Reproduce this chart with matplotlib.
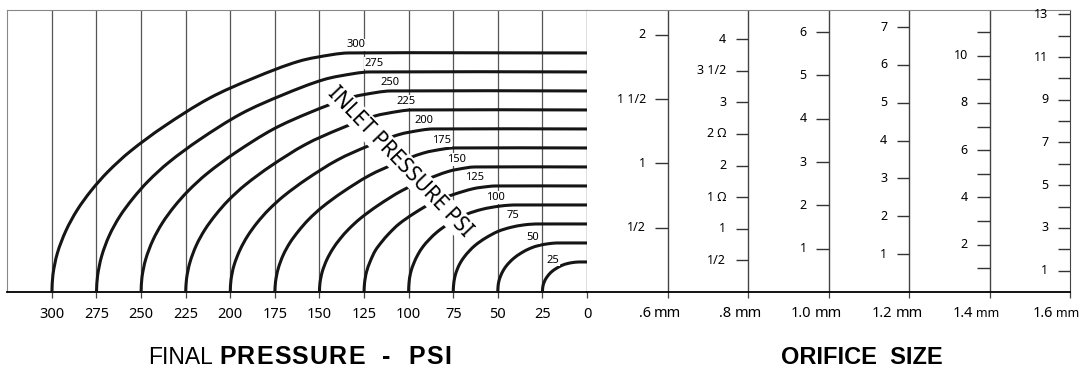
"""Regulator flow nomogram: inlet pressure curves and orifice scales."""
import matplotlib
matplotlib.use("Agg")
import matplotlib.pyplot as plt
import numpy as np
from matplotlib.patches import PathPatch
from matplotlib.path import Path
from matplotlib.transforms import blended_transform_factory

W, H = 1086, 375

# final pressure axis (psi)
PSI_TICKS = [300, 275, 250, 225, 200, 175, 150, 125, 100, 75, 50, 25, 0]

# inlet pressure curves: final pressure (psi) vs flow (chart units)
FINAL_300 = [300, 299.4, 296.9, 292.1, 285.8, 278.0, 268.6, 256.0, 237.1, 211.9, 186.8, 161.6, 142.8, 133.3, 0]
FLOW_300 = [0, 23.0, 51.3, 80.8, 107.9, 133.3, 158.2, 185.2, 217.9, 254.7, 281.5, 303.5, 312.3, 314.5, 314.5]
FINAL_275 = [275, 274.4, 272.1, 267.8, 262.0, 254.7, 246.1, 234.5, 217.1, 193.9, 170.8, 147.6, 130.3, 121.6, 0]
FLOW_275 = [0, 21.1, 47.2, 74.4, 99.3, 122.7, 145.6, 170.5, 200.6, 234.5, 259.1, 279.4, 287.5, 289.5, 289.5]
FINAL_250 = [250, 249.5, 247.4, 243.4, 238.1, 231.5, 223.6, 213.0, 197.1, 175.9, 154.8, 133.6, 117.8, 109.8, 0]
FLOW_250 = [0, 19.3, 43.1, 68.0, 90.7, 112.1, 133.0, 155.8, 183.3, 214.2, 236.7, 255.2, 262.6, 264.5, 264.5]
FINAL_225 = [225, 224.5, 222.6, 219.0, 214.2, 208.2, 201.1, 191.5, 177.1, 157.9, 138.8, 119.6, 105.3, 98.1, 0]
FLOW_225 = [0, 17.5, 39.0, 61.6, 82.1, 101.5, 120.5, 141.1, 166.0, 194.0, 214.4, 231.1, 237.8, 239.5, 239.5]
FINAL_200 = [200, 199.6, 197.9, 194.6, 190.3, 185.0, 178.6, 170.0, 157.1, 139.9, 122.8, 105.6, 92.8, 86.3, 0]
FLOW_200 = [0, 15.7, 35.0, 55.1, 73.6, 90.9, 107.9, 126.3, 148.6, 173.7, 192.0, 207.0, 213.0, 214.5, 214.5]
FINAL_175 = [175, 174.6, 173.1, 170.3, 166.5, 161.7, 156.1, 148.5, 137.1, 121.9, 106.8, 91.6, 80.3, 74.6, 0]
FLOW_175 = [0, 13.8, 30.9, 48.7, 65.0, 80.3, 95.3, 111.6, 131.3, 153.5, 169.6, 182.9, 188.2, 189.5, 189.5]
FINAL_150 = [150, 149.7, 148.4, 145.9, 142.6, 138.5, 133.6, 127.0, 117.1, 103.9, 90.8, 77.6, 67.8, 62.8, 0]
FLOW_150 = [0, 12.0, 26.8, 42.3, 56.4, 69.7, 82.7, 96.9, 114.0, 133.2, 147.2, 158.7, 163.3, 164.5, 164.5]
FINAL_125 = [125, 124.7, 123.6, 121.5, 118.7, 115.2, 111.1, 105.5, 97.1, 85.9, 74.8, 63.6, 55.3, 51.1, 0]
FLOW_125 = [0, 12.1, 26.5, 40.5, 54.4, 65.6, 76.7, 89.3, 103.2, 118.6, 128.3, 136.0, 138.8, 139.5, 139.5]
FINAL_100 = [100, 99.8, 98.9, 97.1, 94.8, 92.0, 88.6, 84.0, 77.1, 67.9, 58.8, 49.6, 42.8, 39.3, 0]
FLOW_100 = [0, 11.5, 25.2, 37.8, 49.2, 59.5, 68.7, 79.0, 90.5, 101.9, 108.8, 112.8, 114.3, 114.5, 114.5]
FINAL_75 = [75, 74.8, 74.1, 72.8, 71.0, 68.7, 66.1, 62.5, 57.1, 49.9, 42.8, 35.6, 30.3, 27.6, 0]
FLOW_75 = [0, 9.0, 19.7, 29.5, 38.5, 46.5, 53.7, 61.8, 70.7, 79.7, 85.0, 88.2, 89.3, 89.5, 89.5]
FINAL_50 = [50, 49.9, 49.4, 48.4, 47.1, 45.5, 43.6, 41.0, 37.1, 31.9, 26.8, 21.6, 17.8, 15.8, 0]
FLOW_50 = [0, 6.5, 14.2, 21.3, 27.7, 33.5, 38.7, 44.5, 51.0, 57.4, 61.3, 63.5, 64.4, 64.5, 64.5]
FINAL_25 = [25, 24.9, 24.6, 24.0, 23.2, 22.2, 21.1, 19.5, 17.1, 13.9, 10.8, 7.6, 5.3, 4.1, 0]
FLOW_25 = [0, 4.0, 8.7, 13.0, 17.0, 20.5, 23.7, 27.3, 31.2, 35.2, 37.5, 38.9, 39.4, 39.5, 39.5]

INLET = [300, 275, 250, 225, 200, 175, 150, 125, 100, 75, 50, 25]

# orifice scales: tick values, printed text, flow per scale unit
ORIFICE_SIZES = [".6", ".8", "1.0", "1.2", "1.4", "1.6"]
VALUES_06 = [0.5, 1, 1.5, 2]
TEXT_06 = ["1/2", "1", "1 1/2", "2"]
VALUES_08 = [0.5, 1, 1.5, 2, 2.5, 3, 3.5, 4]
TEXT_08 = ["1/2", "1", "1 Ω", "2", "2 Ω", "3", "3 1/2", "4"]
VALUES_10 = [1, 2, 3, 4, 5, 6]
TEXT_10 = ["1", "2", "3", "4", "5", "6"]
VALUES_12 = [1, 2, 3, 4, 5, 6, 7]
TEXT_12 = ["1", "2", "3", "4", "5", "6", "7"]
VALUES_14 = [1, 2, 3, 4, 5, 6, 7, 8, 9, 10, 11]
TEXT_14 = ["", "2", "", "4", "", "6", "", "8", "", "10", ""]
VALUES_16 = [1, 2, 3, 4, 5, 6, 7, 8, 9, 10, 11, 12, 13]
TEXT_16 = ["1", "", "3", "", "5", "", "7", "", "9", "", "11", "", "13"]
FLOW_PER_UNIT = [169.1, 83.2, 57.0, 49.8, 31.1, 28.1]

CURVES = [
    (FINAL_300, FLOW_300), (FINAL_275, FLOW_275), (FINAL_250, FLOW_250),
    (FINAL_225, FLOW_225), (FINAL_200, FLOW_200), (FINAL_175, FLOW_175),
    (FINAL_150, FLOW_150), (FINAL_125, FLOW_125), (FINAL_100, FLOW_100),
    (FINAL_75, FLOW_75), (FINAL_50, FLOW_50), (FINAL_25, FLOW_25),
]
SCALES = [(VALUES_06, TEXT_06), (VALUES_08, TEXT_08), (VALUES_10, TEXT_10),
          (VALUES_12, TEXT_12), (VALUES_14, TEXT_14), (VALUES_16, TEXT_16)]

# where the small inlet labels sit (final psi, flow)
LABEL_AT = [(129.4, 325), (119.2, 301), (110.5, 276), (101.2, 250.5),
            (91.3, 225.5), (81.4, 199), (73.4, 174.5), (63.2, 150.5),
            (51.5, 124.5), (41.3, 100), (30.4, 71.5), (18.9, 42)]

FLOW_TOP = 371
PSI_LEFT = 325
GRID = "#555555"
FRAME = "#888888"
INK = "#151515"
TITLE_BASE = 364   # baseline of the two big titles, px from top

plt.rcParams["font.family"] = ["Noto Sans", "DejaVu Sans"]


def px_box(x0, x1, y_top, y_bot):
    return [x0 / W, 1 - y_bot / H, (x1 - x0) / W, (y_bot - y_top) / H]


def smooth_path(xs, ys, sx, sy):
    """Bezier path through the read points (tangents from neighbours)."""
    p = np.column_stack([np.asarray(xs, float) * sx, np.asarray(ys, float) * sy])
    n = len(p)
    tan = np.zeros_like(p)
    tan[0] = p[1] - p[0]
    tan[-1] = p[-1] - p[-2]
    tan[1:-1] = p[2:] - p[:-2]
    tan /= np.linalg.norm(tan, axis=1)[:, None]
    verts = [p[0]]
    codes = [Path.MOVETO]
    for i in range(n - 1):
        seg = np.linalg.norm(p[i + 1] - p[i]) / 3
        verts += [p[i] + tan[i] * seg, p[i + 1] - tan[i + 1] * seg, p[i + 1]]
        codes += [Path.CURVE4] * 3
    verts = np.array(verts) / [sx, sy]
    return Path(verts, codes)


def tracked_text(fig, x_px, s, track, space=1.0, **kw):
    """Letter-spaced title text, drawn char by char from x_px."""
    rend = fig.canvas.get_renderer()
    probe = fig.text(0, 0, "x x", **kw)
    gap = probe.get_window_extent(rend).width
    probe.set_text("xx")
    gap -= probe.get_window_extent(rend).width
    probe.remove()
    x = x_px
    for ch in s:
        if ch == " ":
            x += gap * space + track
            continue
        t = fig.text(x / W, 1 - TITLE_BASE / H, ch, ha="left",
                     va="baseline", **kw)
        x += t.get_window_extent(rend).width + track


fig = plt.figure(figsize=(W / 100, H / 100), dpi=100)
ax = fig.add_axes(px_box(7.3, 587, 10, 292))
axr = fig.add_axes(px_box(587, 1070, 10, 292))

# ---- left: pressure curves ----
ax.set_xlim(PSI_LEFT, 0)
ax.set_ylim(0, FLOW_TOP)
ax.set_xticks(PSI_TICKS)
ax.set_xticklabels([str(v) for v in PSI_TICKS])
ax.set_yticks([])
ax.tick_params(axis="x", length=4, width=0.9, color="#444444", pad=7,
               labelsize=10.5)
ax.grid(axis="x", color=GRID, linewidth=0.9)
ax.set_axisbelow(True)
ax.spines["left"].set_color(FRAME)
ax.spines["top"].set_color(FRAME)
ax.spines["right"].set_color("#444444")
ax.spines["bottom"].set_color("black")
ax.spines["bottom"].set_linewidth(1.3)

# pixels per data unit, so the smoothing is done on screen proportions
sx = (587 - 7.3) / PSI_LEFT
sy = (292 - 10) / FLOW_TOP
for (fin, flow), inlet, (lx, ly) in zip(CURVES, INLET, LABEL_AT):
    ax.add_patch(PathPatch(smooth_path(fin, flow, sx, sy), facecolor="none",
                           edgecolor=INK, linewidth=2.2, capstyle="butt",
                           zorder=3))
    ax.text(lx, ly, str(inlet), fontsize=8, ha="center", va="center",
            zorder=5, bbox=dict(facecolor="white", edgecolor="none", pad=0.6))

ax.text(104.8, 171.4, "INLET PRESSURE PSI", rotation=-46.3,
        rotation_mode="anchor", ha="center", va="center", fontsize=15,
        zorder=6, bbox=dict(facecolor="white", edgecolor="none", pad=1.2))

# ---- right: orifice scales ----
axr.set_xlim(0, 6)
axr.set_ylim(0, FLOW_TOP)
axr.set_xticks(range(1, 7))
axr.set_xticklabels([])
axr.set_yticks([])
axr.tick_params(axis="x", length=4, width=0.9, color="#444444")
axr.spines["left"].set_visible(False)
axr.spines["top"].set_color(FRAME)
axr.spines["right"].set_color("#444444")
axr.spines["bottom"].set_color("black")
axr.spines["bottom"].set_linewidth(1.3)
for c in range(1, 6):
    axr.axvline(c, color="#444444", linewidth=1)

for c, ((vals, texts), k) in enumerate(zip(SCALES, FLOW_PER_UNIT), start=1):
    for v, t in zip(vals, texts):
        axr.hlines(v * k, c - 0.155, c, color="#333333", linewidth=1)
        if t:
            axr.text(c - 0.27, v * k, t, fontsize=9, ha="right",
                     va="center")

below = blended_transform_factory(axr.transData, axr.transAxes)
for c, size in enumerate(ORIFICE_SIZES, start=1):
    small_mm = c >= 5
    axr.text(c - 0.21, -0.075, size, transform=below, fontsize=10.5,
             ha="right", va="center", clip_on=False)
    axr.text(c - 0.17, -0.075, "mm", transform=below,
             fontsize=9 if small_mm else 10.5, ha="left", va="center",
             clip_on=False)

# ---- axis titles ----
fig.text(148 / W, 1 - TITLE_BASE / H, "FINAL", fontsize=16.5,
         family="Liberation Sans", ha="left", va="baseline")
tracked_text(fig, 219, "PRESSURE - PSI", 1.2, space=2.2, fontsize=18,
             family="Liberation Sans", fontweight="bold")
fig.text(862 / W, 1 - TITLE_BASE / H, "ORIFICE  SIZE", fontsize=17,
         family="Liberation Sans", fontweight="bold", ha="center",
         va="baseline")

fig.savefig("out.png", dpi=100)
